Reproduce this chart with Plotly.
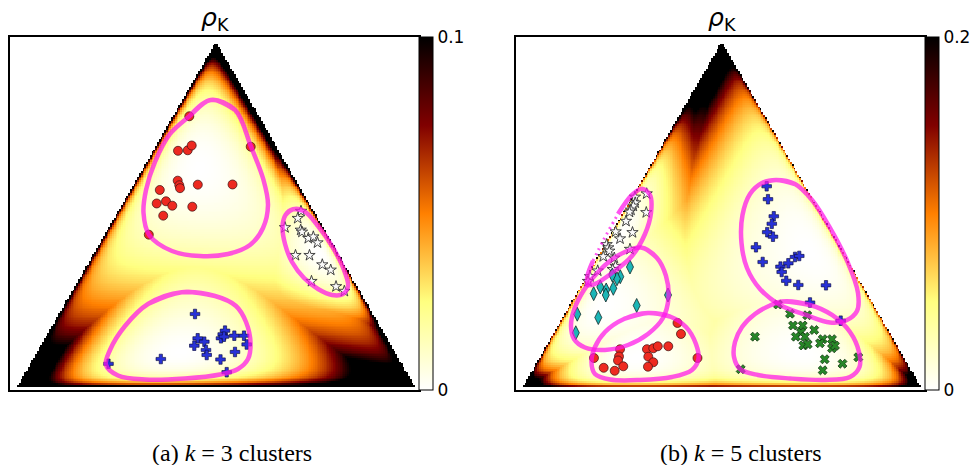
import numpy as np
import plotly.graph_objects as go

# ---------------- data: simplex coordinates (triangle side = 100) ----------------
# panel (a): k = 3 clusters
red_a_x = [43.26, 58.65, 40.43, 42.86, 43.86, 40.35, 40.75, 40.93, 45.39, 54.09, 35.86, 35.09, 37.42, 39.00, 44.01, 36.72, 33.11]
red_a_y = [67.92, 60.30, 59.27, 59.40, 60.60, 51.78, 50.63, 49.90, 50.78, 50.83, 49.45, 46.07, 46.62, 45.51, 45.26, 43.01, 38.25]
blue_a_x = [44.69, 45.36, 47.02, 44.51, 47.44, 47.62, 36.12, 51.08, 54.71, 52.63, 23.01, 51.20, 51.63, 52.21, 51.95, 54.54, 56.97, 57.64]
blue_a_y = [18.37, 12.28, 11.43, 10.43, 9.35, 8.10, 7.09, 6.97, 8.85, 3.78, 5.89, 12.28, 13.28, 14.19, 12.68, 12.93, 12.93, 10.73]
star_a_x = [71.25, 70.43, 67.24, 71.18, 71.50, 73.08, 74.34, 75.39, 69.87, 73.38, 76.59, 78.70, 73.88, 80.03, 82.11]
star_a_y = [44.14, 42.36, 40.05, 39.42, 38.92, 37.34, 37.72, 36.24, 33.08, 33.08, 30.73, 29.40, 26.57, 25.26, 24.09]

# cluster outlines (a)
red_a_cx = [48.62, 54.72, 58.72, 61.85, 62.98, 61.73, 58.47, 52.96, 45.94, 38.92, 33.16, 31.78, 32.41, 34.66, 38.42, 43.26]
red_a_cy = [72.01, 69.50, 60.30, 51.96, 45.69, 39.93, 35.66, 33.41, 32.91, 34.16, 38.25, 43.69, 49.45, 56.47, 63.49, 67.92]
blue_a_cx = [41.35, 49.70, 54.96, 57.47, 58.60, 57.97, 55.46, 50.95, 42.18, 32.16, 25.39, 22.38, 23.38, 27.14, 32.91]
blue_a_cy = [23.81, 22.88, 20.38, 16.37, 11.10, 7.09, 4.59, 3.21, 2.21, 1.95, 2.96, 5.59, 9.35, 15.36, 20.88]
star_a_cx = [69.25, 72.01, 75.52, 79.28, 82.03, 83.04, 81.78, 79.03, 75.52, 72.01, 69.00, 67.25, 66.62, 67.37]
star_a_cy = [44.61, 44.19, 40.43, 34.92, 29.40, 25.39, 23.38, 23.13, 24.64, 27.39, 31.40, 35.92, 40.18, 43.18]

# panel (b): k = 5 clusters
star_b_x = [31.13, 28.20, 28.25, 27.77, 27.19, 26.82, 31.03, 25.94, 27.57, 23.36, 24.44, 26.94, 21.10, 21.50, 21.75, 20.25, 23.01, 23.31, 22.61, 18.85, 16.92, 16.42]
star_b_y = [48.52, 47.69, 46.24, 45.44, 44.44, 43.93, 43.81, 41.63, 38.80, 39.00, 37.24, 34.61, 35.79, 34.99, 34.16, 32.78, 32.41, 30.35, 29.57, 29.20, 27.77, 26.57]
diam_b_x = [26.94, 24.51, 23.68, 22.76, 20.98, 20.88, 19.50, 17.84, 36.47, 28.62, 13.73, 19.00, 13.36, 22.51]
diam_b_y = [30.15, 27.72, 27.19, 24.81, 24.39, 23.13, 25.14, 23.46, 23.13, 20.50, 18.32, 17.49, 13.66, 28.15]
red_b_x = [38.85, 39.72, 17.92, 24.44, 24.19, 23.94, 25.26, 20.35, 23.11, 31.20, 32.78, 33.91, 36.54, 31.53, 32.78, 31.45, 43.86]
red_b_y = [16.12, 13.36, 7.34, 9.52, 7.72, 6.72, 5.26, 4.89, 4.14, 9.55, 9.77, 10.28, 10.28, 7.67, 6.27, 5.16, 7.34]
blue_b_x = [61.20, 61.53, 62.98, 62.48, 61.33, 62.78, 58.52, 60.20, 64.66, 64.96, 66.62, 68.30, 69.37, 66.11, 69.12, 76.07, 72.06, 79.75]
blue_b_y = [50.38, 47.14, 42.86, 40.98, 38.87, 37.74, 35.09, 31.40, 30.23, 28.90, 31.08, 32.66, 32.91, 26.69, 25.64, 25.56, 21.25, 16.69]
green_b_x = [64.04, 67.05, 71.38, 58.27, 67.80, 70.23, 73.11, 69.80, 68.50, 70.80, 70.38, 71.48, 75.24, 74.56, 77.57, 77.57, 78.32, 75.74, 80.20, 75.24, 84.16, 54.69]
green_b_y = [20.75, 18.45, 18.05, 12.68, 15.49, 15.49, 14.36, 13.78, 12.68, 12.68, 10.48, 10.78, 12.06, 11.03, 12.06, 9.77, 10.43, 7.02, 5.91, 4.26, 7.52, 4.54]

# cluster outlines (b)
star_b_cx = [29.95, 31.96, 32.21, 30.70, 27.44, 22.43, 18.17, 16.29, 16.29, 17.67, 20.43, 23.94, 27.44]
star_b_cy = [49.75, 48.20, 43.69, 38.42, 32.91, 28.65, 25.89, 25.64, 27.90, 31.65, 37.17, 43.43, 48.20]
diam_b_cx = [29.70, 33.71, 35.96, 36.59, 35.21, 31.45, 26.44, 20.68, 15.66, 12.91, 12.16, 12.91, 15.41, 19.42, 23.94]
diam_b_cy = [35.04, 32.41, 27.90, 22.38, 17.37, 13.36, 10.60, 9.35, 9.97, 12.11, 15.36, 19.37, 24.39, 29.40, 33.03]
red_b_cx = [31.45, 36.97, 40.98, 43.48, 44.11, 42.48, 37.47, 29.45, 21.93, 18.17, 17.29, 18.17, 20.68, 25.44]
red_b_cy = [18.62, 17.74, 15.11, 10.85, 7.09, 4.34, 2.58, 1.83, 1.95, 3.33, 6.34, 10.10, 13.86, 17.12]
blue_b_cx = [63.54, 68.30, 72.56, 77.07, 81.58, 84.09, 83.84, 81.08, 77.07, 71.05, 64.54, 59.52, 56.27, 54.89, 55.14, 57.02, 60.03]
blue_b_cy = [51.96, 50.95, 46.94, 39.93, 31.15, 23.63, 19.12, 16.74, 16.24, 18.12, 20.63, 24.64, 29.90, 36.17, 43.18, 48.45, 51.20]
green_b_cx = [65.04, 72.06, 77.57, 82.08, 84.34, 84.46, 82.08, 75.82, 67.05, 59.02, 54.51, 53.01, 53.26, 55.02, 58.27, 62.03]
green_b_cy = [21.50, 20.63, 18.12, 13.86, 8.85, 5.09, 2.58, 1.83, 2.21, 3.08, 4.59, 7.59, 11.35, 15.11, 18.37, 20.50]
star_b_dotted = [9, 10, 11]   # outline vertices where the star outline runs along the edge (drawn broken)

colorbar_max_a = 0.1
colorbar_max_b = 0.2
rho_scale_a = 0.0178          # rho_K per squared unit of Mahalanobis distance, panel (a)
rho_scale_b = 0.0215          # same, panel (b)
titles = ["<i>\u03c1</i><sub>K</sub>", "<i>\u03c1</i><sub>K</sub>"]
captions = ["(a) <i>k</i> = 3 clusters", "(b) <i>k</i> = 5 clusters"]

# ---------------- helpers ----------------
H = 50 * np.sqrt(3)


def to_bary(x, y):
    c = np.asarray(y, float) / H
    b = (np.asarray(x, float) - 50 * c) / 100
    a = 1 - b - c
    return a, b, c


def to_ilr(a, b, c):
    return np.stack([np.sqrt(0.5) * np.log(a / b),
                     np.sqrt(2 / 3) * np.log(np.sqrt(a * b) / c)], -1)


def cluster_shape(ox, oy, eps=0.012):
    a, b, c = to_bary(ox, oy)
    P = np.clip(np.stack([a, b, c], -1), eps, None)
    P /= P.sum(1, keepdims=True)
    U = to_ilr(P[:, 0], P[:, 1], P[:, 2])
    mu = U.mean(0)
    cov = np.cov(U.T, bias=True)
    return mu, np.linalg.inv(2 * cov)


gx = np.arange(-1.5, 100.8, 0.45)
gy = np.arange(-0.5, 87.7, 0.45)


def field(outlines, scale):
    X, Y = np.meshgrid(gx, gy)
    a, b, c = to_bary(X, Y)
    inside = (a > 0) & (b > 0) & (c > 0)
    a2 = np.where(inside, a, 1 / 3)
    b2 = np.where(inside, b, 1 / 3)
    c2 = np.where(inside, c, 1 / 3)
    U = to_ilr(a2, b2, c2)
    q = np.full(X.shape, np.inf)
    for ox, oy in outlines:
        mu, A = cluster_shape(ox, oy)
        D = U - mu
        q = np.minimum(q, np.einsum('...i,ij,...j->...', D, A, D))
    z = scale * q
    z[~inside] = np.nan
    return z


def closed(xs, ys):
    # wrap around so the spline is smooth at the join
    return [xs[-1]] + list(xs) + list(xs[:2]), [ys[-1]] + list(ys) + list(ys[:2])


afmhot_r = [[0.0, "rgb(255,255,255)"], [0.25, "rgb(255,255,128)"], [0.5, "rgb(255,128,0)"],
            [0.75, "rgb(128,0,0)"], [1.0, "rgb(0,0,0)"]]

W, HT = 971, 465
MAG = "rgb(255,20,235)"

fig = go.Figure()

panels = [
    dict(xa="x", ya="y", ca="coloraxis", scale=rho_scale_a,
         outlines=[(red_a_cx, red_a_cy), (blue_a_cx, blue_a_cy), (star_a_cx, star_a_cy)],
         pts=[(red_a_x, red_a_y, "circle"), (blue_a_x, blue_a_y, "cross"), (star_a_x, star_a_y, "star")]),
    dict(xa="x2", ya="y2", ca="coloraxis2", scale=rho_scale_b,
         outlines=[(star_b_cx, star_b_cy), (diam_b_cx, diam_b_cy), (red_b_cx, red_b_cy),
                   (blue_b_cx, blue_b_cy), (green_b_cx, green_b_cy)],
         pts=[(star_b_x, star_b_y, "star"), (diam_b_x, diam_b_y, "diamond"), (red_b_x, red_b_y, "circle"),
              (blue_b_x, blue_b_y, "cross"), (green_b_x, green_b_y, "x")]),
]

styles = {
    "circle": dict(symbol="circle", size=9, color="rgb(238,42,32)", line=dict(color="rgba(60,20,20,0.9)", width=0.8)),
    "cross": dict(symbol="cross", size=8, color="rgb(40,50,215)", line=dict(color="rgba(10,10,60,0.9)", width=0.7)),
    "star": dict(symbol="star", size=8.5, color="rgb(250,250,250)", line=dict(color="rgb(50,50,50)", width=0.9)),
    "diamond": dict(symbol="diamond-tall", size=10, color="rgb(28,182,182)", line=dict(color="rgb(20,40,40)", width=0.8)),
    "x": dict(symbol="x", size=8, color="rgb(40,135,40)", line=dict(color="rgb(10,40,10)", width=0.7)),
}

line_style = dict(color=MAG, width=4.5, shape="spline", smoothing=1.0)

for p in panels:
    fig.add_trace(go.Heatmap(x=gx, y=gy, z=field(p["outlines"], p["scale"]), coloraxis=p["ca"],
                             xaxis=p["xa"], yaxis=p["ya"], hoverinfo="skip"))
    for xs, ys, kind in p["pts"]:
        fig.add_trace(go.Scatter(x=xs, y=ys, mode="markers", marker=styles[kind],
                                 xaxis=p["xa"], yaxis=p["ya"], showlegend=False))
    for ox, oy in p["outlines"]:
        if ox is star_b_cx:
            n = len(ox)
            first, last = star_b_dotted[0], star_b_dotted[-1]
            order = [(last + i) % n for i in range(n - (last - first) + 1)]
            fig.add_trace(go.Scatter(x=[ox[i] for i in order], y=[oy[i] for i in order], mode="lines",
                                     line=line_style, opacity=0.72, xaxis=p["xa"], yaxis=p["ya"],
                                     showlegend=False, hoverinfo="skip"))
            fig.add_trace(go.Scatter(x=[ox[i] for i in star_b_dotted], y=[oy[i] for i in star_b_dotted],
                                     mode="lines", line=dict(color=MAG, width=3, shape="spline", dash="2px,4px"),
                                     opacity=0.72, xaxis=p["xa"], yaxis=p["ya"], showlegend=False, hoverinfo="skip"))
            continue
        cx, cy = closed(ox, oy)
        fig.add_trace(go.Scatter(x=cx, y=cy, mode="lines", line=line_style,
                                 opacity=0.72, xaxis=p["xa"], yaxis=p["ya"], showlegend=False, hoverinfo="skip"))


def px2x(px):
    return px / W


def px2y(py):
    return 1 - py / HT


ax_common = dict(showgrid=False, zeroline=False, showticklabels=False, ticks="", showline=True,
                 mirror=True, linecolor="black", linewidth=1.5)


def cbar(x_left, vmax):
    return dict(x=px2x(x_left), xanchor="left", xpad=0, y=px2y(37), yanchor="top", ypad=0,
                len=353, lenmode="pixels", thickness=13.5, thicknessmode="pixels",
                outlinewidth=1, outlinecolor="black", tickvals=[0, vmax], ticktext=["0", str(vmax)],
                ticks="", tickfont=dict(family="DejaVu Sans", size=17, color="black"))


fig.update_layout(
    width=W, height=HT, margin=dict(l=0, r=0, t=0, b=0),
    paper_bgcolor="white", plot_bgcolor="white", showlegend=False,
    xaxis=dict(domain=[px2x(10), px2x(418.5)], range=[-1.68, 100.70], **ax_common),
    yaxis=dict(domain=[px2y(390), px2y(37)], range=[-0.68, 87.79], **ax_common),
    xaxis2=dict(domain=[px2x(515.7), px2x(925)], range=[-1.70, 100.88], **ax_common),
    yaxis2=dict(domain=[px2y(390), px2y(37)], range=[-0.68, 87.79], anchor="x2", **ax_common),
    coloraxis=dict(cmin=0, cmax=colorbar_max_a, colorscale=afmhot_r, colorbar=cbar(419, colorbar_max_a)),
    coloraxis2=dict(cmin=0, cmax=colorbar_max_b, colorscale=afmhot_r, colorbar=cbar(925, colorbar_max_b)),
)
fig.layout.xaxis2.anchor = "y2"

for cx, txt in [(215, titles[0]), (722, titles[1])]:
    fig.add_annotation(x=px2x(cx), y=px2y(19), xref="paper", yref="paper", text=txt, showarrow=False,
                       xanchor="center", yanchor="middle", font=dict(family="DejaVu Sans", size=25, color="black"))
for cx, txt in [(232, captions[0]), (741, captions[1])]:
    fig.add_annotation(x=px2x(cx), y=px2y(453), xref="paper", yref="paper", text=txt, showarrow=False,
                       xanchor="center", yanchor="middle", font=dict(family="Liberation Serif", size=24, color="black"))

fig.write_html("out.html")
